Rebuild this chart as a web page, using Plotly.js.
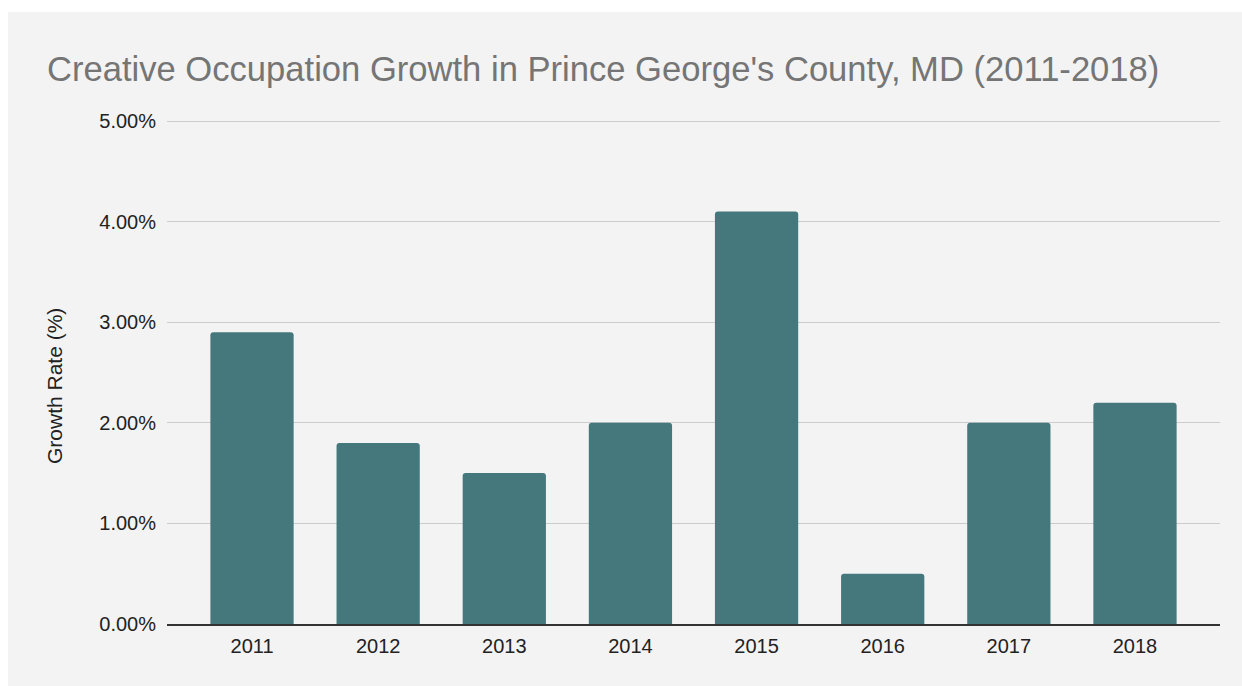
<!DOCTYPE html>
<html>
<head>
<meta charset="utf-8">
<script src="https://cdn.plot.ly/plotly-3.0.1.min.js"></script>
<style>
html, body { margin: 0; padding: 0; background: #ffffff; }
#chart { position: absolute; left: 8px; top: 12px; width: 1234px; height: 674px; }
</style>
</head>
<body>
<div id="chart"></div>
<script>
const years = ['2011', '2012', '2013', '2014', '2015', '2016', '2017', '2018'];
const growthRate = [0.029, 0.018, 0.015, 0.020, 0.041, 0.005, 0.020, 0.022];
const yTickValues = [0, 0.01, 0.02, 0.03, 0.04, 0.05];
const yTickLabels = ['0.00%', '1.00%', '2.00%', '3.00%', '4.00%', '5.00%'];
const chartTitle = "Creative Occupation Growth in Prince George's County, MD (2011-2018)";
const yAxisTitle = 'Growth Rate (%)';

const trace = {
  type: 'bar',
  x: years,
  y: growthRate,
  marker: { color: '#45787c', cornerradius: 3, line: { width: 0 } },
  hoverinfo: 'x+y'
};

// plot area: 5% line at page y=121, 0% at page y=624 (div offset 12)
const W = 1234, H = 674;
const yMax = 0.0502;
const pxPerUnit = 503 / 0.05;
const mL = 159, mR = 22, mB = 62;
const mT = 109 - (yMax - 0.05) * pxPerUnit;
const plotW = W - mL - mR;
const plotH = H - mT - mB;

const layout = {
  width: W,
  height: H,
  paper_bgcolor: '#f3f3f3',
  plot_bgcolor: '#f3f3f3',
  margin: { l: mL, r: mR, t: mT, b: mB, pad: 0 },
  font: { family: 'Arial, "Liberation Sans", sans-serif', color: '#222222' },
  title: {
    text: chartTitle,
    font: { size: 34.6, color: '#757575', family: 'Arial, "Liberation Sans", sans-serif' },
    xref: 'container', yref: 'container',
    x: 39 / W, xanchor: 'left',
    y: 1 - 57 / H, yanchor: 'middle'
  },
  bargap: 0.34,
  showlegend: false,
  xaxis: {
    type: 'category',
    range: [-0.674, 7.674],
    showgrid: false,
    zeroline: false,
    showline: true,
    linecolor: '#333333',
    linewidth: 1.5,
    ticks: '',
    ticklabelstandoff: 3,
    tickfont: { size: 20, color: '#222222' },
    fixedrange: true
  },
  yaxis: {
    range: [0, yMax],
    tickvals: yTickValues,
    ticktext: yTickLabels,
    showgrid: true,
    gridcolor: '#cccccc',
    gridwidth: 1,
    zeroline: false,
    showline: false,
    ticks: '',
    ticklabelstandoff: 10,
    tickfont: { size: 20, color: '#222222' },
    fixedrange: true
  },
  annotations: [{
    text: yAxisTitle,
    textangle: -90,
    xref: 'paper', yref: 'paper',
    x: (46 - mL) / plotW, y: (H - mB - 374) / plotH,
    xanchor: 'center', yanchor: 'middle',
    showarrow: false,
    font: { size: 21, color: '#222222' }
  }]
};

Plotly.newPlot('chart', [trace], layout, { displayModeBar: false, responsive: false });
</script>
</body>
</html>
